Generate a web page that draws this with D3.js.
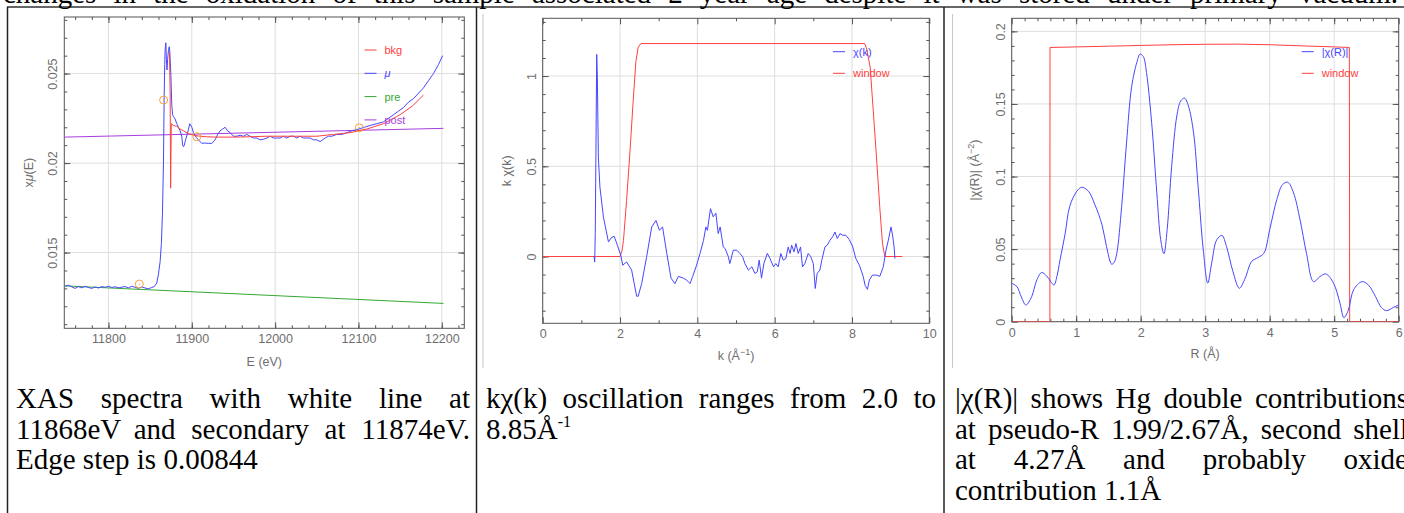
<!DOCTYPE html>
<html>
<head>
<meta charset="utf-8">
<script src="https://cdn.jsdelivr.net/npm/d3@7"></script>
<style>
  body { margin: 0; background: #fff; }
  svg { display: block; }
  .tick text { font-family: "Liberation Sans", Arial, sans-serif; font-size: 12.5px; fill: #6e6e6e; }
  .tick line { stroke: #555; }
  .axlabel { font-family: "Liberation Sans", Arial, sans-serif; font-size: 12.5px; fill: #6e6e6e; }
  .legend { font-family: "Liberation Sans", Arial, sans-serif; font-size: 11px; }
  .cap { font-family: "Liberation Serif", "Times New Roman", serif; font-size: 29px; fill: #000; }
</style>
</head>
<body>
<svg id="page" width="1404" height="513"></svg>
<script>

// ---------- panel 1 : normalised XAS ----------
const mu = [
  [11748,0.01312],[11752,0.01318],[11756,0.01308],[11760,0.01300],[11764,0.01310],[11768,0.01303],
  [11772,0.01312],[11776,0.01305],[11780,0.01300],[11784,0.01308],[11788,0.01302],[11792,0.01310],
  [11796,0.01306],[11800,0.01312],[11804,0.01305],[11808,0.01309],[11812,0.01303],[11816,0.01307],
  [11820,0.01310],[11824,0.01303],[11828,0.01312],[11832,0.01306],[11836,0.01300],[11840,0.01308],
  [11844,0.01302],[11848,0.01298],[11852,0.01305],[11855,0.01310],[11858,0.01330],[11860,0.01380],
  [11862,0.01450],[11863.5,0.0155],[11864.8,0.0172],[11866,0.0200],[11866.8,0.0235],[11867.5,0.0255],
  [11868,0.0263],[11868.8,0.02672],[11869.5,0.0258],[11870.2,0.0252],[11871,0.0258],[11872,0.0263],
  [11873,0.0265],[11873.6,0.0262],[11874.9,0.0249],[11876,0.0232],[11877,0.0227],[11878,0.0226],
  [11880,0.02246],[11882,0.0222],[11884,0.0220],[11886,0.0218],[11888,0.02147],[11889,0.0210],
  [11890,0.02091],[11891,0.0210],[11892,0.0212],[11895,0.0217],[11897.6,0.0222],[11900,0.0220],
  [11902,0.0217],[11904,0.0215],[11908,0.0213],[11912,0.0211],[11916,0.02112],[11920,0.0211],
  [11924,0.0211],[11928,0.0213],[11931,0.0216],[11934,0.0218],[11937,0.0219],[11940,0.0220],
  [11943,0.0218],[11946,0.0217],[11950,0.0215],[11954,0.0215],[11958,0.02155],[11962,0.0215],
  [11966,0.0216],[11970,0.0215],[11974,0.0214],[11978,0.0214],[11982,0.0213],[11986,0.02133],
  [11990,0.0214],[11994,0.0215],[11998,0.0214],[12002,0.0214],[12006,0.0214],[12010,0.0215],
  [12014,0.0214],[12018,0.0215],[12022,0.0215],[12026,0.0214],[12030,0.0215],[12034,0.0214],
  [12038,0.0214],[12042,0.0214],[12046,0.0213],[12050,0.0213],[12054,0.0212],[12057,0.0213],
  [12060,0.0214],[12064,0.0215],[12068,0.0215],[12074,0.0216],[12080,0.0216],[12086,0.0217],
  [12092,0.0218],[12100,0.0219],[12107,0.0220],[12114,0.0221],[12122,0.0222],[12130,0.0223],
  [12136,0.0225],[12142,0.0227],[12148,0.0229],[12154,0.0231],[12160,0.0234],[12166,0.0236],
  [12172,0.0239],[12178,0.0242],[12184,0.0246],[12190,0.0250],[12196,0.0255],[12201,0.0260]
];
const bkg = [
  [11873.2,0.0262],[11874.0,0.0240],[11874.6,0.0186],[11875.0,0.0205],[11875.4,0.0222],[11878,0.0221],
  [11882,0.02205],[11886,0.0219],[11890,0.0218],[11896,0.02165],[11902,0.02155],[11910,0.0215],
  [11918,0.02147],[11930,0.02145],[11950,0.02145],[11970,0.02147],[11990,0.0215],[12010,0.0215],
  [12030,0.0215],[12050,0.0215],[12070,0.0216],[12090,0.0217],[12110,0.0219],[12130,0.0222],
  [12150,0.0227],[12165,0.0232],[12178,0.0238]
];
const preLine = [[11747,0.01314],[12202,0.01216]];
const postLine = [[11747,0.02145],[12202,0.02194]];
const markers = [[11837,0.01324],[11866.2,0.02352],[11906,0.02147],[12101,0.02197]];

// ---------- panel 2 : k-weighted chi(k) ----------
const chiK = [
  [1.33,0],[1.345,-0.03],[1.36,0.127],[1.397,1.12],[1.414,0.99],[1.44,0.55],[1.48,0.385],[1.57,0.22],
  [1.64,0.145],[1.70,0.081],[1.78,0.105],[1.85,0.112],[1.93,0.063],[2.02,0.007],[2.07,-0.048],
  [2.17,-0.03],[2.30,-0.075],[2.43,-0.22],[2.47,-0.22],[2.56,-0.15],[2.69,0],[2.82,0.164],[2.93,0.20],
  [3.02,0.145],[3.10,0.164],[3.21,0.017],[3.32,-0.12],[3.42,-0.15],[3.51,-0.11],[3.64,-0.12],
  [3.72,-0.13],[3.81,-0.15],[3.88,-0.11],[3.98,-0.048],[4.07,0.017],[4.16,0.09],[4.22,0.164],
  [4.26,0.145],[4.34,0.265],[4.41,0.22],[4.48,0.24],[4.54,0.127],[4.59,0.164],[4.63,0.109],
  [4.67,0.053],[4.72,0.044],[4.80,0],[4.84,-0.039],[4.93,0.035],[5.02,0.035],[5.10,0.017],[5.17,0],
  [5.23,-0.039],[5.32,-0.075],[5.41,-0.057],[5.49,-0.094],[5.55,-0.085],[5.60,-0.02],[5.66,-0.12],
  [5.72,-0.039],[5.81,0.017],[5.88,-0.011],[5.97,-0.057],[6.03,-0.039],[6.09,-0.057],[6.16,0.017],
  [6.22,-0.02],[6.29,-0.011],[6.35,0.053],[6.40,0.017],[6.44,0.063],[6.50,0.026],[6.55,0.072],
  [6.61,0.017],[6.67,0.053],[6.72,-0.057],[6.78,-0.039],[6.87,0.017],[6.93,0],[7.0,-0.039],
  [7.05,-0.177],[7.10,-0.094],[7.17,-0.075],[7.22,-0.02],[7.30,0.053],[7.36,0.063],[7.43,0.09],
  [7.50,0.109],[7.56,0.136],[7.62,0.1],[7.69,0.127],[7.76,0.118],[7.84,0.118],[7.93,0.094],
  [8.02,0.053],[8.10,-0.011],[8.19,-0.048],[8.25,-0.085],[8.29,-0.11],[8.34,-0.16],[8.40,-0.182],
  [8.45,-0.13],[8.53,-0.103],[8.64,-0.103],[8.72,-0.11],[8.81,-0.057],[8.88,0.035],[8.94,0.09],
  [9.01,0.164],[9.05,0.118],[9.09,0.053],[9.11,-0.011]
];
const windowK = [
  [0,0],[2.0,0],[2.05,0.03],[2.09,0.09],[2.17,0.31],[2.26,0.59],[2.34,0.86],[2.41,1.08],[2.47,1.16],
  [2.54,1.18],[8.33,1.18],[8.38,1.15],[8.47,1.05],[8.55,0.81],[8.64,0.53],[8.72,0.27],[8.79,0.07],
  [8.85,0],[9.30,0]
];

// ---------- panel 3 : |chi(R)| ----------
const chiR = [
  [0,0.0265],[0.08,0.0242],[0.15,0.017],[0.22,0.0115],[0.31,0.0173],[0.39,0.0288],[0.465,0.0339],
  [0.54,0.0316],[0.6,0.028],[0.656,0.0253],[0.7,0.031],[0.75,0.0426],[0.83,0.061],[0.9,0.0795],
  [1.01,0.0899],[1.085,0.0926],[1.19,0.0899],[1.29,0.0806],[1.40,0.0668],[1.47,0.0518],[1.55,0.0396],
  [1.59,0.041],[1.63,0.0472],[1.705,0.0795],[1.78,0.123],[1.86,0.162],[1.94,0.1786],[1.99,0.1843],
  [2.04,0.1827],[2.09,0.1716],[2.17,0.137],[2.25,0.0887],[2.31,0.0565],[2.36,0.0468],[2.41,0.0634],
  [2.48,0.107],[2.56,0.1417],[2.62,0.152],[2.68,0.154],[2.74,0.1486],[2.82,0.130],[2.89,0.0933],
  [2.97,0.0495],[3.04,0.0265],[3.10,0.0403],[3.18,0.0565],[3.26,0.0594],[3.33,0.0518],[3.43,0.0346],
  [3.53,0.023],[3.62,0.030],[3.72,0.0415],[3.82,0.0442],[3.91,0.0472],[4.0,0.0634],[4.11,0.0841],
  [4.20,0.0945],[4.28,0.0961],[4.37,0.0887],[4.47,0.0703],[4.57,0.0472],[4.68,0.0276],[4.78,0.0311],
  [4.87,0.0329],[4.99,0.0265],[5.09,0.0127],[5.15,0.0028],[5.22,0.0081],[5.30,0.0219],[5.43,0.0276],
  [5.53,0.0253],[5.64,0.0173],[5.73,0.0099],[5.81,0.0076],[5.92,0.0099],[6.0,0.0115]
];
const windowR = [
  [0,0],[0.592,0],[0.594,0.1889],[1.0,0.1893],[1.5,0.1898],[2.0,0.1903],[2.5,0.1908],[3.0,0.1911],
  [3.5,0.1912],[4.0,0.1908],[4.5,0.1900],[5.0,0.1893],[5.235,0.1889],[5.24,0],[6,0]
];

// ---------- captions ----------
const headerText = "changes in the oxidation of this sample associated 2 year age despite it was stored under primary vacuum.";
const caption1 = ["XAS spectra with white line at", "11868eV and secondary at 11874eV.", "Edge step is 0.00844"];
const caption2 = ["kχ(k) oscillation ranges from 2.0 to"];
const caption3 = ["|χ(R)| shows Hg double contributions", "at pseudo-R 1.99/2.67Å, second shell", "at 4.27Å and probably oxide", "contribution 1.1Å"];

const blue = "#4646ff", red = "#ff4040", green = "#33a833", purple = "#a63ce0", orange = "#f2a23a";

const svg = d3.select("#page");

// table lines
svg.append("line").attr("x1", 7).attr("x2", 1404).attr("y1", 7).attr("y2", 7).attr("stroke", "#333").attr("stroke-width", 1.5);
[7.5, 476.5, 944].forEach(xx => {
  svg.append("line").attr("x1", xx).attr("x2", xx).attr("y1", 7).attr("y2", 513).attr("stroke", "#222").attr("stroke-width", 1.5);
});
// embedded-image borders
[483, 952.5].forEach(xx => {
  svg.append("line").attr("x1", xx).attr("x2", xx).attr("y1", 14).attr("y2", 368).attr("stroke", "#c8c8c8");
});

function drawPanel(p) {
  const x = d3.scaleLinear().domain(p.xDomain).range([p.left, p.right]);
  const y = d3.scaleLinear().domain(p.yDomain).range([p.bottom, p.top]);
  const g = svg.append("g");

  svg.append("clipPath").attr("id", "clip" + p.id).append("rect")
    .attr("x", p.left).attr("y", p.top).attr("width", p.right - p.left).attr("height", p.bottom - p.top);

  // grid
  g.append("g").selectAll("line").data(p.xMajor).enter().append("line")
    .attr("x1", d => x(d)).attr("x2", d => x(d)).attr("y1", p.top).attr("y2", p.bottom)
    .attr("stroke", "#dedede");
  g.append("g").selectAll("line").data(p.yMajor).enter().append("line")
    .attr("y1", d => y(d)).attr("y2", d => y(d)).attr("x1", p.left).attr("x2", p.right)
    .attr("stroke", "#dedede");

  // ticks on four sides
  const axes = [
    [d3.axisBottom(x), `translate(0,${p.bottom})`, p.xMajor, p.xMinor, true],
    [d3.axisTop(x), `translate(0,${p.top})`, p.xMajor, p.xMinor, false],
    [d3.axisLeft(y), `translate(${p.left},0)`, p.yMajor, p.yMinor, true],
    [d3.axisRight(y), `translate(${p.right},0)`, p.yMajor, p.yMinor, false]
  ];
  axes.forEach(([ax, tr, major, minor, labelled], i) => {
    const a = g.append("g").attr("transform", tr)
      .call(ax.tickValues(minor).tickSize(-3).tickFormat(""));
    a.select(".domain").remove();
    const b = g.append("g").attr("transform", tr)
      .call(ax.tickValues(major).tickSize(-6).tickPadding(labelled ? 6 : 0)
        .tickFormat(labelled ? (d => String(+d.toFixed(4))) : ""));
    b.select(".domain").remove();
    if (labelled && i === 2) {
      b.selectAll("text").attr("transform", "rotate(-90)")
        .attr("x", 0).attr("y", -7).attr("dy", 0).style("text-anchor", "middle");
    }
    if (labelled && i === 0) {
      b.selectAll("text").attr("y", 6);
    }
  });

  // frame
  g.append("rect").attr("x", p.left).attr("y", p.top)
    .attr("width", p.right - p.left).attr("height", p.bottom - p.top)
    .attr("fill", "none").attr("stroke", "#555");

  // series
  const line = d3.line().x(d => x(d[0])).y(d => y(d[1]));
  const plot = g.append("g").attr("clip-path", `url(#clip${p.id})`);
  p.series.forEach(s => {
    plot.append("path").datum(s.data)
      .attr("d", line.curve(s.smooth ? d3.curveCatmullRom : d3.curveLinear))
      .attr("fill", "none").attr("stroke", s.color).attr("stroke-width", 1);
  });
  if (p.markers) {
    const mk = plot.append("g").selectAll("g").data(p.markers).enter().append("g")
      .attr("transform", d => `translate(${x(d[0])},${y(d[1])})`);
    mk.append("circle").attr("r", 4).attr("fill", "none").attr("stroke", orange).attr("stroke-width", 1);
    mk.append("circle").attr("r", 0.7).attr("fill", orange);
  }

  // legend
  p.legend.forEach((l, i) => {
    const ly = p.legendY + i * p.legendStep;
    g.append("line").attr("x1", p.legendX).attr("x2", p.legendX + 12)
      .attr("y1", ly).attr("y2", ly).attr("stroke", l.color);
    g.append("text").attr("class", "legend").attr("x", p.legendX + 20).attr("y", ly + 4)
      .attr("fill", l.color).style("font-style", l.italic ? "italic" : "normal").text(l.label);
  });

  // axis titles
  const xt = g.append("text").attr("class", "axlabel").attr("text-anchor", "middle")
    .attr("x", (p.left + p.right) / 2).attr("y", p.xTitleY);
  p.xTitle.forEach(t => xt.append("tspan").attr("dy", t.dy || 0).style("font-size", t.size || null).text(t.s));
  const yt = g.append("text").attr("class", "axlabel").attr("text-anchor", "middle")
    .attr("transform", `translate(${p.yTitleX},${(p.top + p.bottom) / 2}) rotate(-90)`);
  p.yTitle.forEach(t => yt.append("tspan").attr("dy", t.dy || 0).style("font-size", t.size || null)
    .style("font-style", t.italic ? "italic" : null).text(t.s));
}

drawPanel({
  id: 1, left: 64.3, right: 464.3, top: 17, bottom: 328.3,
  xDomain: [11747, 12227], yDomain: [0.01077, 0.02816],
  xMajor: [11800, 11900, 12000, 12100, 12200], xMinor: d3.range(11760, 12227, 20),
  yMajor: [0.015, 0.02, 0.025], yMinor: d3.range(0.011, 0.0281, 0.001),
  series: [
    { data: preLine, color: green }, { data: postLine, color: purple },
    { data: mu, color: blue }, { data: bkg, color: red }
  ],
  markers: markers,
  legend: [
    { label: "bkg", color: red }, { label: "μ", color: blue, italic: true },
    { label: "pre", color: green }, { label: "post", color: purple }
  ],
  legendX: 364.5, legendY: 50, legendStep: 23.3,
  xTitle: [{ s: "E (eV)" }], xTitleY: 366,
  yTitle: [{ s: "x" }, { s: "μ", italic: true }, { s: "(E)" }], yTitleX: 33
});

drawPanel({
  id: 2, left: 542.7, right: 929.3, top: 18.3, bottom: 323.3,
  xDomain: [0, 10], yDomain: [-0.37, 1.32],
  xMajor: [0, 2, 4, 6, 8, 10], xMinor: [1, 3, 5, 7, 9],
  yMajor: [0, 0.5, 1], yMinor: d3.range(-0.3, 1.31, 0.1),
  series: [{ data: windowK, color: red }, { data: chiK, color: blue }],
  legend: [{ label: "χ(k)", color: blue }, { label: "window", color: red }],
  legendX: 833, legendY: 51.7, legendStep: 21.6,
  xTitle: [{ s: "k (Å" }, { s: "−1", dy: -5, size: "9px" }, { s: ")", dy: 5 }], xTitleY: 360,
  yTitle: [{ s: "k χ(k)" }], yTitleX: 511
});

drawPanel({
  id: 3, left: 1011.7, right: 1398.7, top: 18.3, bottom: 321.7,
  xDomain: [0, 6], yDomain: [0, 0.209],
  xMajor: [0, 1, 2, 3, 4, 5, 6], xMinor: d3.range(0.2, 6, 0.2),
  yMajor: [0, 0.05, 0.1, 0.15, 0.2], yMinor: d3.range(0.01, 0.209, 0.01),
  series: [{ data: windowR, color: red }, { data: chiR, color: blue, smooth: true }],
  legend: [{ label: "|χ(R)|", color: blue }, { label: "window", color: red }],
  legendX: 1301.7, legendY: 51.7, legendStep: 21.6,
  xTitle: [{ s: "R (Å)" }], xTitleY: 358,
  yTitle: [{ s: "|χ(R)| (Å" }, { s: "−2", dy: -5, size: "9px" }, { s: ")", dy: 5 }], yTitleX: 979
});

// ---------- text ----------
function writeLine(x0, yy, width, str, justify) {
  const words = str.split(" ");
  const t = svg.append("text").attr("class", "cap").attr("y", yy);
  const spans = words.map(w => t.append("tspan").text(w));
  const widths = spans.map(s => s.node().getComputedTextLength());
  const total = d3.sum(widths);
  const gap = justify && words.length > 1 ? (width - total) / (words.length - 1) : 7.25;
  let xx = x0;
  spans.forEach((s, i) => { s.attr("x", xx); xx += widths[i] + gap; });
}

writeLine(3, 3, 1395, headerText, true);

const lineY = [408, 438.5, 469, 499.5];
caption1.forEach((s, i) => writeLine(16, lineY[i], 454, s, i < caption1.length - 1));
caption2.forEach((s, i) => writeLine(486, lineY[i], 450, s, true));
const sup = svg.append("text").attr("class", "cap").attr("x", 486).attr("y", lineY[1]);
sup.append("tspan").text("8.85Å");
sup.append("tspan").attr("dy", -12).style("font-size", "16px").text("-1");
caption3.forEach((s, i) => writeLine(955, lineY[i], 453, s, i < caption3.length - 1));

</script>
</body>
</html>
